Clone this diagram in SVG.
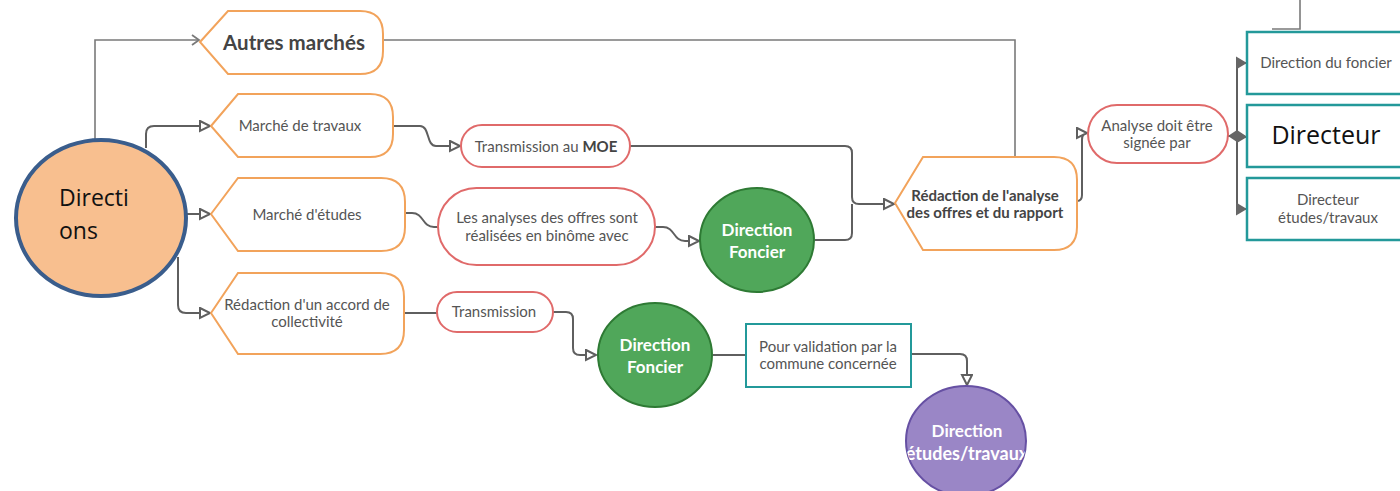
<svg xmlns="http://www.w3.org/2000/svg" width="1400" height="491" viewBox="0 0 1400 491">
<style>
.lbl{font-family:Lato,"Liberation Sans",sans-serif;font-size:15px;fill:#555;text-anchor:middle}
.b{font-weight:bold;fill:#444}
.wt{font-family:Lato,"Liberation Sans",sans-serif;font-size:17px;font-weight:bold;fill:#fff;text-anchor:middle}
.cal{font-family:"Open Sans","Noto Sans",sans-serif;fill:#111}
.disp{fill:#fff;stroke:#F2A35B;stroke-width:2}
.pill{fill:#fff;stroke:#E06A6A;stroke-width:2}
.teal{fill:#fff;stroke:#23999A;stroke-width:2.5}
.c{fill:none;stroke:#5f5f5f;stroke-width:2}
.cl{fill:none;stroke:#7a7a7a;stroke-width:1.6}
</style>
<defs>
<marker id="ah" markerWidth="14" markerHeight="14" refX="11" refY="6" orient="auto" markerUnits="userSpaceOnUse">
<path d="M1,1 L11,6 L1,11 Z" fill="#fff" stroke="#5f5f5f" stroke-width="2" stroke-linejoin="miter"/>
</marker>
<marker id="af" markerWidth="14" markerHeight="16" refX="11" refY="7" orient="auto" markerUnits="userSpaceOnUse">
<path d="M0,0.5 L11,7 L0,13.5 Z" fill="#666"/>
</marker>
<marker id="ch" markerWidth="12" markerHeight="12" refX="8" refY="6" orient="auto" markerUnits="userSpaceOnUse">
<path d="M1,1 L8,6 L1,11" fill="none" stroke="#7a7a7a" stroke-width="1.8"/>
</marker>
<clipPath id="pc"><ellipse cx="966" cy="441" rx="60" ry="55"/></clipPath>
</defs>

<g id="connectors">
<path class="cl" d="M95,139 V40 H199" marker-end="url(#ch)"/>
<path class="cl" d="M383,40 H1015 V157"/>
<path class="cl" d="M1300,0 V29 H1272"/>
<path class="c" d="M146,148 V134 Q146,126 154,126 H210" marker-end="url(#ah)"/>
<path class="c" d="M187,214 H210" marker-end="url(#ah)"/>
<path class="c" d="M178,257 V305 Q178,313 186,313 H210" marker-end="url(#ah)"/>
<path class="c" d="M393,126 H420 C430,126 426,146 436,146 H460" marker-end="url(#ah)"/>
<path class="c" d="M630,146 H845 Q852,146 852,153 V197 Q852,204 859,204 H894" marker-end="url(#ah)"/>
<path class="c" d="M815,240 H845 Q852,240 852,233 V204"/>
<path class="c" d="M405,213 H412 C424,213 422,227 434,227 H438"/>
<path class="c" d="M655,227 H663 C675,227 673,241 685,241 H699" marker-end="url(#ah)"/>
<path class="c" d="M1077,201 Q1082,201 1082,195 V140 Q1082,133 1087,133" marker-end="url(#ah)"/>
<path class="c" d="M1242,63 Q1237,63 1237,69 V203 Q1237,209 1242,209"/>
<path class="c" d="M1237,63 H1247" marker-end="url(#af)"/>
<path class="c" d="M1237,137 H1247" marker-end="url(#af)"/>
<path class="c" d="M1237,209 H1247" marker-end="url(#af)"/>
<path class="c" d="M1228,136 H1237"/>
<polygon points="1228,136 1237,130 1246,136 1237,142" fill="#666"/>
<path class="c" d="M404,313 H437"/>
<path class="c" d="M553,312 H566 Q573,312 573,319 V348 Q573,355 580,355 H596" marker-end="url(#ah)"/>
<path class="c" d="M713,355 H746"/>
<path class="c" d="M911,354 H960 Q967,354 967,361 V385" marker-end="url(#ah)"/>
</g>

<g id="directions">
<ellipse cx="101" cy="218" rx="85" ry="78" fill="#F8BF8F" stroke="#3A5D8C" stroke-width="4"/>
<text class="cal" x="59" y="206" font-size="23">Directi</text>
<text class="cal" x="59" y="239" font-size="23">ons</text>
</g>

<g id="autres-marches">
<path class="disp" d="M200,42 L228,11 H360 Q383,11 383,34 V51 Q383,74 360,74 H228 Z"/>
<text class="lbl b" x="294" y="50" style="font-size:20.5px">Autres marchés</text>
</g>

<g id="marche-travaux">
<path class="disp" d="M211,126 L238,94 H370 Q393,94 393,117 V134 Q393,157 370,157 H238 Z"/>
<text class="lbl" x="300" y="131">Marché de travaux</text>
</g>

<g id="marche-etudes">
<path class="disp" d="M211,214 L238,178 H381 Q405,178 405,202 V227 Q405,251 381,251 H238 Z"/>
<text class="lbl" x="307" y="220">Marché d'études</text>
</g>

<g id="redaction-accord">
<path class="disp" d="M211,313 L238,273 H380 Q404,273 404,297 V330 Q404,354 380,354 H238 Z"/>
<text class="lbl" x="307" y="310">Rédaction d'un accord de</text>
<text class="lbl" x="307" y="327">collectivité</text>
</g>

<g id="transmission-moe">
<rect class="pill" x="461" y="125" width="169" height="42" rx="21"/>
<text class="lbl" x="546" y="152">Transmission au <tspan class="b">MOE</tspan></text>
</g>

<g id="analyses-binome">
<rect class="pill" x="438" y="188" width="217" height="77" rx="38.5"/>
<text class="lbl" x="547" y="223">Les analyses des offres sont</text>
<text class="lbl" x="547" y="241">réalisées en binôme avec</text>
</g>

<g id="direction-foncier-1">
<ellipse cx="757" cy="240" rx="57" ry="52" fill="#50A75A" stroke="#2E7A34" stroke-width="2"/>
<text class="wt" x="757" y="236">Direction</text>
<text class="wt" x="757" y="258">Foncier</text>
</g>

<g id="redaction-analyse">
<path class="disp" d="M895,203 L923,157 H1054 Q1077,157 1077,180 V227 Q1077,250 1054,250 H923 Z"/>
<text class="lbl b" x="985" y="201">Rédaction de l'analyse</text>
<text class="lbl b" x="985" y="218">des offres et du rapport</text>
</g>

<g id="analyse-signee">
<rect class="pill" x="1088" y="105" width="140" height="58" rx="29"/>
<text class="lbl" x="1157" y="131">Analyse doit être</text>
<text class="lbl" x="1157" y="148">signée par</text>
</g>

<g id="direction-du-foncier">
<rect class="teal" x="1247" y="32" width="170" height="62"/>
<text class="lbl" x="1326" y="68">Direction du foncier</text>
</g>

<g id="directeur">
<rect class="teal" x="1247" y="105" width="170" height="62"/>
<text class="cal" x="1326" y="144" font-size="25" text-anchor="middle">Directeur</text>
</g>

<g id="directeur-etudes">
<rect class="teal" x="1247" y="178" width="170" height="62"/>
<text class="lbl" x="1328" y="205">Directeur</text>
<text class="lbl" x="1328" y="223">études/travaux</text>
</g>

<g id="transmission">
<rect class="pill" x="437" y="292" width="116" height="40" rx="20"/>
<text class="lbl" x="494" y="317">Transmission</text>
</g>

<g id="direction-foncier-2">
<ellipse cx="655" cy="355" rx="57" ry="52" fill="#50A75A" stroke="#2E7A34" stroke-width="2"/>
<text class="wt" x="655" y="351">Direction</text>
<text class="wt" x="655" y="373">Foncier</text>
</g>

<g id="pour-validation">
<rect x="746" y="324" width="165" height="63" fill="#fff" stroke="#23999A" stroke-width="2"/>
<text class="lbl" x="828" y="352">Pour validation par la</text>
<text class="lbl" x="828" y="369">commune concernée</text>
</g>

<g id="direction-etudes-travaux">
<ellipse cx="966" cy="441" rx="60" ry="55" fill="#9A86C6" stroke="#6650A3" stroke-width="2"/>
<g clip-path="url(#pc)">
<text class="wt" x="967" y="437">Direction</text>
<text class="wt" x="967" y="460" style="font-size:18px">études/travaux</text>
</g>
</g>
</svg>
